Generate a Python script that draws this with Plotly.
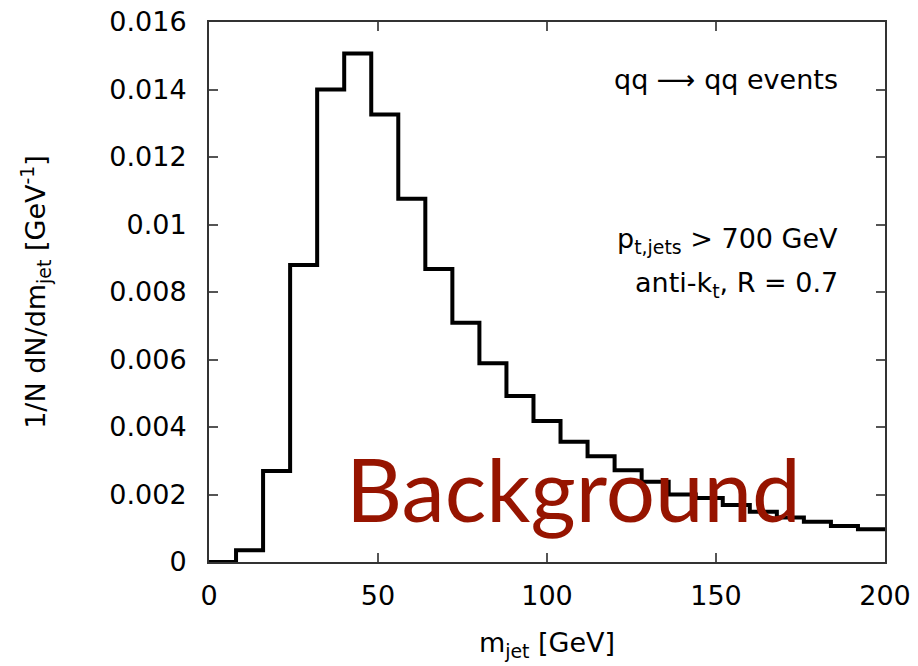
import plotly.graph_objects as go

# Histogram data: 8 GeV bins from 0 to 200 GeV
bin_edges = [0, 8, 16, 24, 32, 40, 48, 56, 64, 72, 80, 88, 96, 104, 112, 120,
             128, 136, 144, 152, 160, 168, 176, 184, 192, 200]
density = [0.0, 0.00035, 0.0027, 0.0088, 0.0140, 0.01507, 0.01326, 0.01076,
           0.00868, 0.00709, 0.00589, 0.00492, 0.00418, 0.00356, 0.00313,
           0.00272, 0.00238, 0.00200, 0.00190, 0.00169, 0.00149, 0.00132,
           0.00119, 0.00107, 0.00097]

x_ticks = [0, 50, 100, 150, 200]
y_ticks = [0, 0.002, 0.004, 0.006, 0.008, 0.01, 0.012, 0.014, 0.016]
y_ticklabels = ["0", "0.002", "0.004", "0.006", "0.008", "0.01", "0.012", "0.014", "0.016"]

FONT = "DejaVu Sans, Liberation Sans, Arial, sans-serif"
FS = 27

fig = go.Figure()
fig.add_trace(go.Scatter(
    x=bin_edges,
    y=density + [density[-1]],
    mode="lines",
    line=dict(shape="hv", color="black", width=4),
    showlegend=False,
    hoverinfo="skip",
))

axis_common = dict(
    showgrid=False, zeroline=False, automargin=False,
    showline=True, linecolor="#333", linewidth=2, mirror="ticks",
    ticks="inside", ticklen=9, tickwidth=1.5, tickcolor="#555",
    tickfont=dict(family=FONT, size=FS, color="black"),
)

fig.update_xaxes(
    range=[0, 200], tickvals=x_ticks, ticktext=[str(v) for v in x_ticks],
    ticklabelstandoff=9,
    title=dict(text="m<sub>jet</sub> [GeV]", font=dict(family=FONT, size=FS, color="black"), standoff=23),
    **axis_common,
)
fig.update_yaxes(
    range=[0, 0.016], tickvals=y_ticks, ticktext=y_ticklabels,
    ticklabelstandoff=15,
    title=dict(text="1/N dN/dm<sub>jet</sub> [GeV<sup>-1</sup>]", font=dict(family=FONT, size=FS, color="black"), standoff=56),
    **axis_common,
)

ann_font = dict(family=FONT, size=FS, color="black")
fig.add_annotation(xref="paper", yref="paper", x=0.933, y=0.893, xanchor="right", yanchor="middle",
                   text="qq \u27f6 qq events", showarrow=False, font=ann_font)
fig.add_annotation(xref="paper", yref="paper", x=0.933, y=0.595, xanchor="right", yanchor="middle",
                   text="p<sub>t,jets</sub> > 700 GeV", showarrow=False, font=ann_font)
fig.add_annotation(xref="paper", yref="paper", x=0.933, y=0.513, xanchor="right", yanchor="middle",
                   text="anti-k<sub>t</sub>, R = 0.7", showarrow=False, font=ann_font)
fig.add_annotation(xref="paper", yref="paper", x=0.2, y=0.137, xanchor="left", yanchor="middle",
                   text="Background", showarrow=False,
                   font=dict(family="Lato, Open Sans, sans-serif", size=87, color="#961400"))

fig.update_layout(
    width=918, height=666,
    margin=dict(l=209, r=33, t=22, b=104),
    plot_bgcolor="white", paper_bgcolor="white",
)

fig.write_html("out.html")
